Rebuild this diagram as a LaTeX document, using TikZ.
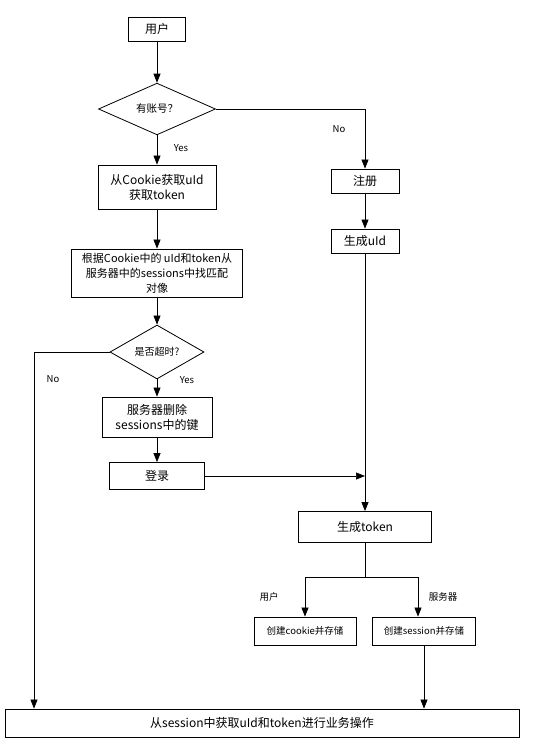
\documentclass[tikz,border=0pt]{standalone}
\usepackage{fontspec}
\setmainfont{Noto Sans CJK SC}
\usetikzlibrary{shapes.geometric,arrows.meta}
\tikzstyle{flow}=[>={Triangle[length=9pt,width=7pt]}, ->, line width=0.7pt, draw=black]
\tikzstyle{box}=[rectangle, draw, line width=0.8pt, inner sep=0pt, align=center, font=\fontsize{12}{15}\selectfont]
\tikzstyle{dec}=[diamond, draw, line width=0.8pt, inner sep=0pt, font=\fontsize{10.5}{12}\selectfont]
\tikzstyle{lbl}=[inner sep=0pt, font=\fontsize{9.5}{11}\selectfont]
\begin{document}
\begin{tikzpicture}[x=1pt, y=-1pt]
				\useasboundingbox (0,0) rectangle (551,746);
				
				%The left column
				\draw (157,29) node[box, minimum width=57, minimum height=24] (user) {用户};
				\draw (157,109) node[dec, minimum width=117, minimum height=37] (acc) {有账号？};
				\draw (157,187) node[box, minimum width=118, minimum height=44] (cookie) {从Cookie获取uId\\获取token};
				\draw (157,273) node[box, minimum width=171, minimum height=48, font=\fontsize{11}{15}\selectfont] (find) {根据Cookie中的 uId和token从\\服务器中的sessions中找匹配\\对像};
				\draw (157,352) node[dec, minimum width=94, minimum height=39, font=\fontsize{10}{12}\selectfont] (tout) {是否超时?};
				\draw (157,417) node[box, minimum width=110, minimum height=40] (del) {服务器删除\\sessions中的键};
				\draw (157,476) node[box, minimum width=95, minimum height=27] (login) {登录};
				
				%The right column
				\draw (365,181) node[box, minimum width=68, minimum height=24] (reg) {注册};
				\draw (365,241) node[box, minimum width=68, minimum height=24] (uid) {生成uId};
				\draw (365,527) node[box, minimum width=133, minimum height=31] (token) {生成token};
				\draw (305,631) node[box, minimum width=102, minimum height=28, font=\fontsize{9.5}{11}\selectfont] (mkc) {创建cookie并存储};
				\draw (424,631) node[box, minimum width=103, minimum height=28, font=\fontsize{9.5}{11}\selectfont] (mks) {创建session并存储};
				
				%The last box
				\draw (262,723) node[box, minimum width=514, minimum height=28] (biz) {从session中获取uId和token进行业务操作};
				
				%The labels
				\draw (181,148) node[lbl] (y1) {Yes};
				\draw (339,129) node[lbl] (n1) {No};
				\draw (187,380) node[lbl] (y2) {Yes};
				\draw (53,379) node[lbl] (n2) {No};
				\draw (269,597) node[lbl] (l1) {用户};
				\draw (443,597) node[lbl] (l2) {服务器};
				
				%The joints
				\coordinate (c1) at (34,352);
				\coordinate (c2) at (365,577);
				
				%The connectors
				\draw[flow] (user) -- (acc);
				\draw[flow] (acc) -- (cookie);
				\draw[flow] (acc.east) -| (reg.north);
				\draw[flow] (cookie) -- (find);
				\draw[flow] (find) -- (tout);
				\draw[flow] (tout) -- (del);
				\draw[flow] (del) -- (login);
				\draw[flow] (tout.west) -- (c1) -- (c1 |- biz.north);
				\draw[flow] (reg) -- (uid);
				\draw[flow] (uid) -- (token);
				\draw[flow] (login.east) -- (login.east -| token.north);
				\draw[flow, -] (token.south) -- (c2);
				\draw[flow] (c2) -| (mkc.north);
				\draw[flow] (c2) -| ([xshift=-6pt]mks.north);
				\draw[flow] (mks.south) -- (mks.south |- biz.north);
			\end{tikzpicture}
\end{document}
